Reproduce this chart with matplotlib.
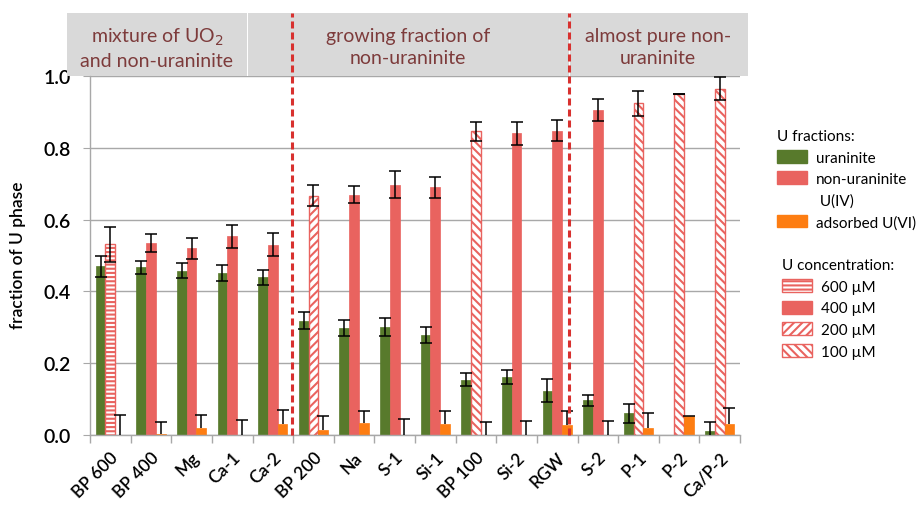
import numpy as np
import matplotlib
matplotlib.use("Agg")
import matplotlib.pyplot as plt
from matplotlib.patches import Patch, Rectangle
from matplotlib import transforms

plt.rcParams['font.family'] = ['Lato', 'DejaVu Sans']
plt.rcParams['hatch.linewidth'] = 1.5

# ---------------- data ----------------
samples = ["BP 600", "BP 400", "Mg", "Ca-1", "Ca-2", "BP 200", "Na", "S-1", "Si-1",
           "BP 100", "Si-2", "RGW", "S-2", "P-1", "P-2", "Ca/P-2"]
uraninite = [0.470, 0.467, 0.458, 0.451, 0.439, 0.318, 0.298, 0.300, 0.279,
             0.154, 0.161, 0.123, 0.097, 0.060, 0.0, 0.012]
uraninite_err = [0.030, 0.018, 0.021, 0.023, 0.022, 0.024, 0.021, 0.025, 0.023,
                 0.018, 0.019, 0.032, 0.015, 0.026, 0.0, 0.024]
non_uraninite = [0.531, 0.535, 0.520, 0.553, 0.530, 0.667, 0.669, 0.697, 0.690,
                 0.846, 0.840, 0.848, 0.906, 0.924, 0.950, 0.964]
non_uraninite_err = [0.048, 0.025, 0.029, 0.032, 0.032, 0.030, 0.024, 0.037, 0.030,
                     0.027, 0.033, 0.030, 0.030, 0.035, 0.0, 0.032]
adsorbed = [0.0, 0.003, 0.019, 0.0, 0.031, 0.015, 0.033, 0.0, 0.031,
            0.0, 0.0, 0.029, 0.0, 0.019, 0.054, 0.031]
adsorbed_err_up = [0.057, 0.034, 0.038, 0.042, 0.040, 0.039, 0.035, 0.045, 0.037,
                   0.035, 0.038, 0.039, 0.038, 0.041, 0.0, 0.044]
concentration = ["600", "400", "400", "400", "400", "200", "400", "400", "400",
                 "100", "400", "400", "400", "100", "100", "100"]
conc_keys = ["600", "400", "200", "100"]
conc_labels = ["600 µM", "400 µM", "200 µM", "100 µM"]
group_titles = ["mixture of UO$_2$\nand non-uraninite",
                "growing fraction of\nnon-uraninite",
                "almost pure non-\nuraninite"]
yticks = [0.0, 0.2, 0.4, 0.6, 0.8, 1.0]

# ---------------- style ----------------
GREEN = "#587a2c"
RED = "#e9635f"
ORANGE = "#fd7d12"
DASH = "#d8312f"
GRID = "#a8a8a8"
HEAD_BG = "#d9d9d9"
HEAD_TXT = "#7d3b3b"
hatch_map = {"600": "----", "400": None, "200": "////", "100": "\\\\\\\\"}

fig = plt.figure(figsize=(9.16, 5.06), dpi=100)
ax = fig.add_axes([90 / 916, 70 / 506, 650 / 916, 359 / 506])

x = np.arange(len(samples))
w = 0.24

ax.bar(x - w, uraninite, w, color=GREEN, edgecolor=GREEN, linewidth=0.5, zorder=2)
for xi, v, c in zip(x, non_uraninite, concentration):
    h = hatch_map[c]
    if h is None:
        ax.bar(xi, v, w, color=RED, edgecolor=RED, linewidth=0.5, zorder=2)
    else:
        ax.bar(xi, v, w, color="white", edgecolor=RED, hatch=h, linewidth=1.0, zorder=2)
ax.bar(x + w, adsorbed, w, color=ORANGE, edgecolor=ORANGE, linewidth=0.5, zorder=2)

ekw = dict(fmt="none", ecolor="black", elinewidth=1.1, capsize=4.5, capthick=1.1, zorder=3)
gmask = np.array(uraninite) > 0
ax.errorbar(x[gmask] - w, np.array(uraninite)[gmask],
            yerr=np.array(uraninite_err)[gmask], **ekw)
ax.errorbar(x, non_uraninite, yerr=non_uraninite_err, **ekw)
eb = ax.errorbar(x + w, adsorbed, yerr=[np.zeros(len(adsorbed)), adsorbed_err_up], **ekw)
eb[1][0].set_visible(False)

ax.set_xlim(-0.5, len(samples) - 0.5)
ax.set_ylim(0, 1.0)

# axes styling
for s in ["top", "right"]:
    ax.spines[s].set_visible(False)
for s in ["left", "bottom"]:
    ax.spines[s].set_color(GRID)
    ax.spines[s].set_linewidth(1.0)
ax.set_yticks(yticks)
ax.set_yticklabels([f"{t:.1f}" for t in yticks], fontsize=14, fontweight="semibold")
ax.yaxis.grid(True, color=GRID, linewidth=1.0, zorder=0)
ax.set_axisbelow(True)
ax.tick_params(axis="y", length=5, color=GRID, pad=9)
ax.set_xticks(x)
ax.set_xticklabels(samples, rotation=45, ha="right", rotation_mode="anchor",
                   fontsize=12.5, fontweight="semibold")
ax.tick_params(axis="x", which="major", length=0, pad=10)
ax.set_xticks(np.arange(-0.5, len(samples), 1), minor=True)
ax.tick_params(axis="x", which="minor", length=6, color=GRID, width=1.0)
ax.set_ylabel("fraction of U phase", fontsize=12.5, fontweight="semibold")
ax.yaxis.set_label_coords(-0.098, 0.504)

# header boxes + group separators
blend = transforms.blended_transform_factory(ax.transData, ax.transAxes)
head_top = 1.1755
box_edges = [(-1.066, 3.37), (3.40, 11.29), (11.31, 15.70)]
for (x0, x1) in box_edges:
    ax.add_patch(Rectangle((x0, 1.0), x1 - x0, head_top - 1.0, transform=blend,
                           facecolor=HEAD_BG, edgecolor="none", clip_on=False, zorder=1))
text_x = [1.149, 7.33, 13.48]
for tx, title in zip(text_x, group_titles):
    ax.text(tx, 1.081, title, transform=blend, ha="center", va="center",
            fontsize=14, color=HEAD_TXT, linespacing=1.35, zorder=4)
for sx in [4.475, 11.30]:
    ax.plot([sx, sx], [0, head_top], transform=blend, clip_on=False, color=DASH,
            linewidth=2.2, dashes=(2.3, 1.3), zorder=5)

# legends
h1 = [Patch(facecolor=GREEN, edgecolor=GREEN),
      Patch(facecolor=RED, edgecolor=RED),
      Patch(facecolor="none", edgecolor="none"),
      Patch(facecolor=ORANGE, edgecolor=ORANGE)]
l1 = ["uraninite", "non-uraninite", " U(IV)", "adsorbed U(VI)"]
fig.legend(h1, l1, title="U fractions:", loc="upper left",
           bbox_to_anchor=(777 / 916, (506 - 130) / 506), frameon=False,
           fontsize=11, title_fontproperties={"size": 11},
           alignment="left", borderpad=0, borderaxespad=0,
           handlelength=1.95, handleheight=0.92, labelspacing=0.45,
           handletextpad=0.6)
h2 = []
for c in conc_keys:
    hh = hatch_map[c]
    if hh is None:
        h2.append(Patch(facecolor=RED, edgecolor=RED))
    else:
        h2.append(Patch(facecolor="white", edgecolor=RED, hatch=hh))
fig.legend(h2, conc_labels, title="U concentration:", loc="upper left",
           bbox_to_anchor=(782 / 916, (506 - 259) / 506), frameon=False,
           fontsize=11, title_fontproperties={"size": 11},
           alignment="left", borderpad=0, borderaxespad=0,
           handlelength=1.95, handleheight=0.92, labelspacing=0.46,
           handletextpad=0.6)

fig.savefig("out.png", dpi=100)
